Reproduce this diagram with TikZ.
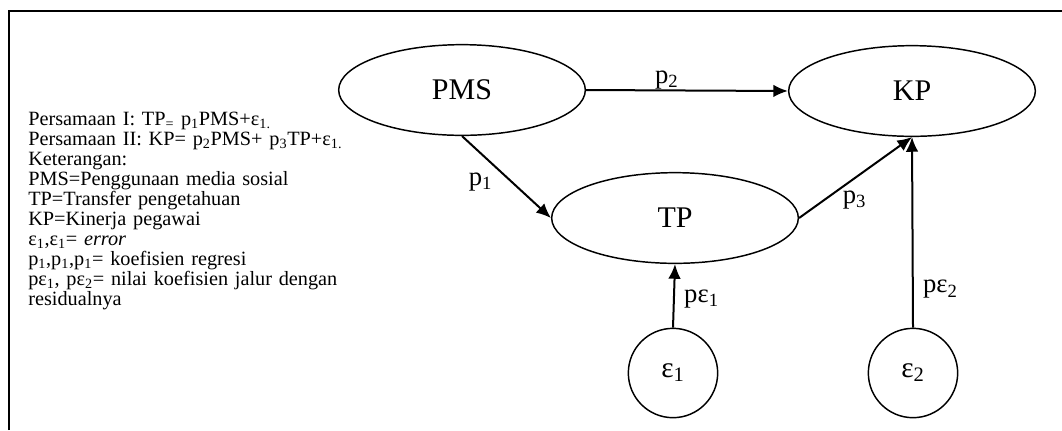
\documentclass[tikz,border=0pt]{standalone}
\usepackage{fontspec}
\setmainfont{Liberation Serif}
\usetikzlibrary{shapes.geometric,arrows.meta}

\begin{document}
\begin{tikzpicture}[x=0.75pt, y=-0.75pt,
        var/.style={ellipse, draw, line width=1.1pt, minimum width=185pt, minimum height=68pt, inner sep=0pt, font=\fontsize{22.5}{26}\selectfont},
        err/.style={circle, draw, line width=1.1pt, minimum size=67pt, inner sep=0pt, font=\fontsize{22}{26}\selectfont},
        arr/.style={line width=1.5pt, -{Latex[length=11pt,width=9.5pt]}},
        lbl/.style={font=\fontsize{20}{24}\selectfont, inner sep=2pt}]
        \useasboundingbox (0,0) rectangle (1062,430);
        \draw[line width=1.5pt] (9,430) -- (9,11) -- (1062,11);

        % keterangan
        \node[anchor=north west, text width=270pt, align=left, inner sep=0pt, font=\fontsize{15.2}{15}\selectfont] (ket) at (28,112) {%
            Persamaan I: TP\textsubscript{=} p\textsubscript{1}PMS+ε\textsubscript{1.}\\
            Persamaan II: KP= p\textsubscript{2}PMS+ p\textsubscript{3}TP+ε\textsubscript{1.}\\
            Keterangan:\\
            PMS=Penggunaan media sosial\\
            TP=Transfer pengetahuan\\
            KP=Kinerja pegawai\\
            ε\textsubscript{1},ε\textsubscript{1}= \textit{error}\\
            p\textsubscript{1},p\textsubscript{1},p\textsubscript{1}= koefisien regresi\\
            \makebox[\linewidth][s]{pε\textsubscript{1}, pε\textsubscript{2}= nilai koefisien jalur dengan}\\
            residualnya};

        \node[var] (pms) at (462,90) {PMS};
        \node[var] (kp) at (912,91) {KP};
        \node[var] (tp) at (675,218) {TP};
        \node[err] (e1) at (673,373) {ε\textsubscript{1}};
        \node[err] (e2) at (913,373) {ε\textsubscript{2}};

        \draw[arr] (pms.east) -- node[lbl, pos=0.4, above=-2pt] {p\textsubscript{2}} (kp.west);
        \draw[arr] (pms.south) -- node[lbl, pos=0.56, left=12pt] {p\textsubscript{1}} (tp.west);
        \draw[arr] (tp.east) -- node[lbl, pos=0.49, below=6.5pt] {p\textsubscript{3}} (kp.south);
        \draw[arr] (e1.north) -- node[lbl, pos=0.45, right=5pt] {pε\textsubscript{1}} (tp.south);
        \draw[arr] (e2.north) -- node[lbl, pos=0.2, right=5pt] {pε\textsubscript{2}} (kp.south);
    \end{tikzpicture}
\end{document}
